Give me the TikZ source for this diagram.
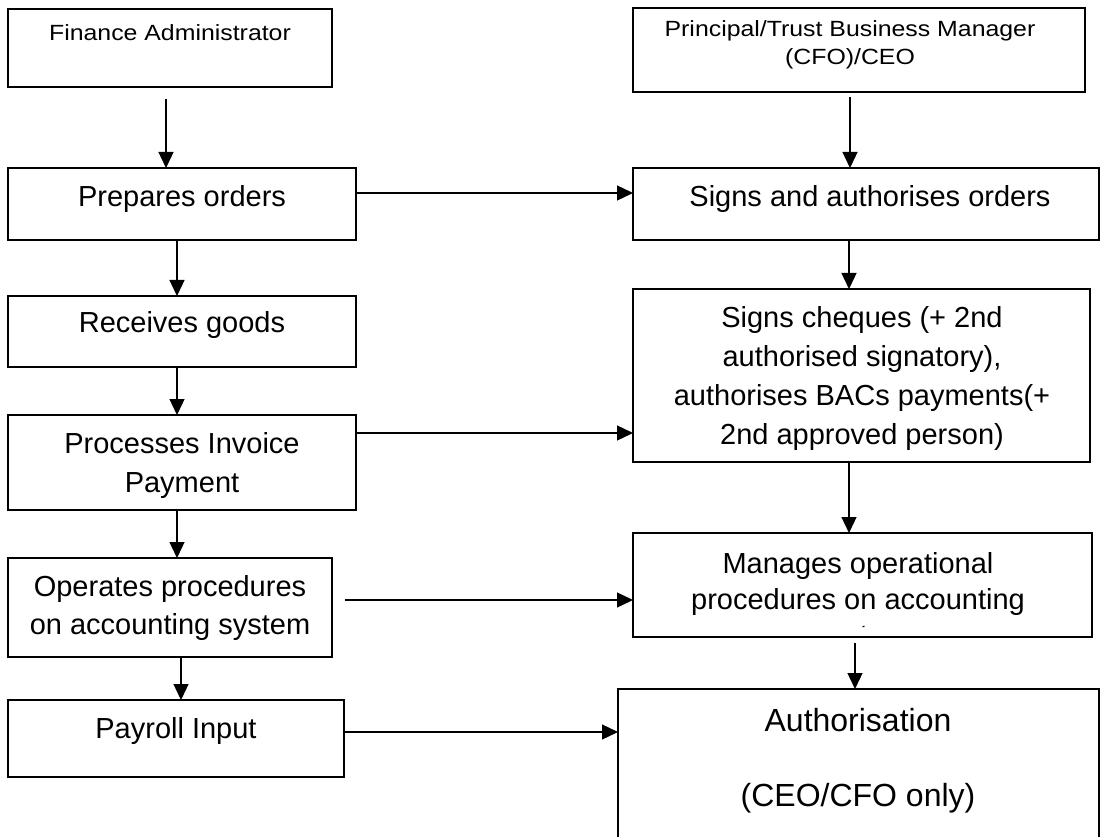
\documentclass[tikz,border=0pt]{standalone}
\usepackage{fontspec}
\setmainfont{Liberation Sans}
\newfontfamily\smallfnt{Liberation Sans}[FakeStretch=1.13]
\usetikzlibrary{arrows.meta,calc}
\begin{document}
\begin{tikzpicture}[x=1pt,y=-1pt,
  box/.style={draw=black, line width=1.8pt, rectangle, inner sep=0pt, outer sep=0pt},
  txt/.style={inner sep=0pt, anchor=north, align=center, font=\fontsize{29}{39}\selectfont},
  stxt/.style={inner sep=0pt, anchor=north, align=center, font=\smallfnt\fontsize{22}{28}\selectfont},
  arr/.style={line width=1.3pt, -{Triangle[length=16pt,width=15pt]}}]
\useasboundingbox (0,0) rectangle (1101,837);
\clip (0,0) rectangle (1101,837);
\fill[white] (0,0) rectangle (1101,837);

% boxes
\node[box, minimum width=324pt, minimum height=78pt]  (fa)   at (170,48) {};
\node[box, minimum width=452pt, minimum height=84pt]  (pri)  at (859,50) {};
\node[box, minimum width=348pt, minimum height=72pt]  (prep) at (182,204) {};
\node[box, minimum width=466pt, minimum height=72pt]  (sign) at (866,204) {};
\node[box, minimum width=348pt, minimum height=71pt]  (recv) at (182,331.5) {};
\node[box, minimum width=457pt, minimum height=173pt] (chq)  at (861.5,375.5) {};
\node[box, minimum width=348pt, minimum height=95pt]  (proc) at (182,462.5) {};
\node[box, minimum width=324pt, minimum height=99pt]  (oper) at (170,607.5) {};
\node[box, minimum width=459pt, minimum height=104pt] (man)  at (862.5,585) {};
\node[box, minimum width=336pt, minimum height=77pt]  (pay)  at (176,738.5) {};
\node[box, minimum width=481pt, minimum height=171pt] (auth) at (858.5,774.5) {};

% texts
\node[stxt] (tfa)   at (170,24) {Finance Administrator};
\node[stxt] (tpri)  at (850,20) {Principal/Trust Business Manager\\(CFO)/CEO};
\node[txt]  (tprep) at (182,185) {Prepares orders};
\node[txt]  (tsign) at (870,185) {Signs and authorises orders};
\node[txt]  (trecv) at (182,311) {Receives goods};
\node[txt]  (tchq)  at (862,306) {Signs cheques (+ 2nd\\authorised signatory),\\authorises BACs payments(+\\2nd approved person)};
\node[txt]  (tproc) at (182,432) {Processes Invoice\\Payment};
\node[txt, font=\fontsize{29}{38}\selectfont] (toper) at (170,575) {Operates procedures\\on accounting system};
\node[txt, font=\fontsize{29}{36}\selectfont] (tman) at (858,552) {Manages operational\\procedures on accounting};
\node[txt]  (tpay)  at (176,717) {Payroll Input};
\node[txt, font=\fontsize{32}{75}\selectfont] (tauth) at (858,708) {Authorisation\\(CEO/CFO only)};

% stray mark in the Manages box
\draw[line width=1pt] ($(man.south)+(0,-10)$) -- ($(man.south)+(2,-11)$);

% connectors
\draw[arr] ($(fa.south)+(-4,12)$) -- ($(fa.south |- prep.north)+(-4,0)$);
\draw[arr] ($(pri.south)+(-9,5)$) -- ($(pri.south |- sign.north)+(-9,0)$);
\draw[arr] ($(prep.east)+(0,-11)$) -- ($(prep.east -| sign.west)+(0,-11)$);
\draw[arr] ($(sign.south)+(-17,0)$) -- ($(sign.south |- chq.north)+(-17,0)$);
\draw[arr] ($(prep.south)+(-5,0)$) -- ($(recv.north)+(-5,0)$);
\draw[arr] ($(recv.south)+(-5,0)$) -- ($(proc.north)+(-5,0)$);
\draw[arr] ($(proc.east)+(0,-29.5)$) -- ($(proc.east -| chq.west)+(0,-29.5)$);
\draw[arr] ($(proc.south)+(-5,0)$) -- ($(proc.south |- oper.north)+(-5,0)$);
\draw[arr] ($(chq.south)+(-12.5,0)$) -- ($(chq.south |- man.north)+(-12.5,0)$);
\draw[arr] ($(oper.east)+(13,-7.5)$) -- ($(oper.east -| man.west)+(0,-7.5)$);
\draw[arr] ($(oper.south)+(11,0)$) -- ($(oper.south |- pay.north)+(11,0)$);
\draw[arr] ($(man.south)+(-7.5,6)$) -- ($(man.south |- auth.north)+(-7.5,0)$);
\draw[arr] ($(pay.east)+(0,-6.5)$) -- ($(pay.east -| auth.west)+(0,-6.5)$);
\end{tikzpicture}
\end{document}
